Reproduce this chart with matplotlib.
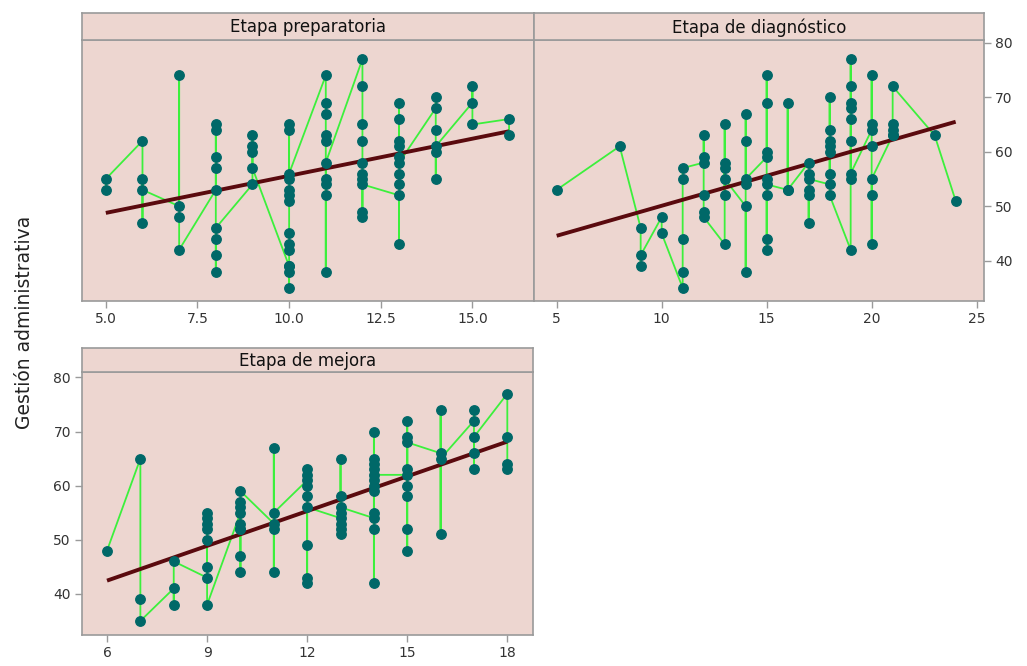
import numpy as np
import matplotlib
matplotlib.use("Agg")
import matplotlib.pyplot as plt
from matplotlib.ticker import FormatStrFormatter

# ---------------- data ----------------
panel_titles = ["Etapa preparatoria", "Etapa de diagnóstico", "Etapa de mejora"]
y_label = "Gestión administrativa"

prep_x = ([5] * 2 + [6] * 4 + [7] * 4 + [8] * 9 + [9] * 5 + [10] * 14 + [11] * 10 +
          [12] * 10 + [13] * 10 + [14] * 6 + [15] * 3 + [16] * 2)
prep_y = [53, 55,
          62, 47, 55, 53,
          50, 74, 48, 42,
          53, 65, 64, 59, 57, 38, 41, 44, 46,
          54, 63, 61, 60, 57,
          39, 35, 38, 39, 42, 43, 45, 51, 52, 53, 55, 64, 65, 56,
          74, 69, 67, 63, 62, 38, 52, 54, 55, 58,
          77, 72, 65, 62, 58, 56, 48, 49, 55, 54,
          52, 43, 54, 56, 59, 61, 62, 66, 69, 58,
          68, 70, 64, 60, 55, 61,
          69, 72, 65,
          66, 63]

diag_x = ([5] + [8] + [9] * 3 + [10] * 2 + [11] * 5 + [12] * 6 + [13] * 6 + [14] * 6 +
          [15] * 9 + [16] * 3 + [17] * 6 + [18] * 8 + [19] * 9 + [20] * 7 + [21] * 5 +
          [23] + [24])
diag_y = [53,
          61,
          46, 39, 41,
          48, 45,
          35, 38, 44, 55, 57,
          58, 63, 59, 52, 49, 48,
          43, 65, 58, 52, 57, 55,
          50, 38, 67, 62, 54, 55,
          59, 74, 69, 60, 42, 44, 52, 55, 54,
          53, 69, 53,
          58, 47, 52, 53, 56, 55,
          54, 70, 64, 62, 61, 60, 56, 52,
          42, 77, 72, 69, 68, 66, 62, 55, 56,
          64, 74, 65, 61, 43, 52, 55,
          63, 63, 64, 65, 72,
          63,
          51]

mej_x = ([6] + [7] * 3 + [8] * 3 + [9] * 8 + [10] * 9 + [11] * 5 + [12] * 9 + [13] * 8 +
         [14] * 12 + [15] * 9 + [16] * 4 + [17] * 5 + [18] * 4)
mej_y = [48,
         65, 39, 35,
         41, 38, 46,
         43, 45, 50, 52, 53, 54, 55, 38,
         55, 44, 47, 52, 52, 53, 56, 57, 59,
         53, 67, 44, 52, 55,
         61, 63, 62, 60, 58, 42, 43, 49, 56,
         54, 65, 58, 51, 52, 53, 55, 56,
         54, 70, 65, 64, 63, 61, 60, 59, 55, 52, 42, 62,
         62, 72, 69, 63, 60, 58, 52, 48, 68,
         66, 74, 51, 65,
         72, 74, 63, 66, 69,
         77, 69, 64, 63]

prep_xticks = [5.0, 7.5, 10.0, 12.5, 15.0]
diag_xticks = [5, 10, 15, 20, 25]
mej_xticks = [6, 9, 12, 15, 18]
y_ticks = [40, 50, 60, 70, 80]

# ---------------- style ----------------
W, H = 1027, 666
BG = "#EDD6D0"
EDGE = "#9a9a9a"
PT = "#006868"
GREEN = "#3CF03C"
FIT = "#5A0A0E"

fig = plt.figure(figsize=(W / 100, H / 100), dpi=100)
fig.patch.set_facecolor("white")


def rect(l, t, r, b):
    return [l / W, 1 - b / H, (r - l) / W, (b - t) / H]


def make_panel(ax_box, strip_box, title, xs, ys, xlim, ylim, xticks, fmt=None):
    ax = fig.add_axes(rect(*ax_box))
    ax.set_facecolor(BG)
    ax.plot(xs, ys, color=GREEN, lw=1.3, zorder=2)
    coef = np.polyfit(xs, ys, 1)
    xx = np.array([min(xs), max(xs)])
    ax.plot(xx, np.polyval(coef, xx), color=FIT, lw=2.8, zorder=3, solid_capstyle="butt")
    ax.plot(xs, ys, "o", ms=6.8, color=PT, mec=PT, zorder=4, lw=0)
    ax.set_xlim(*xlim)
    ax.set_ylim(*ylim)
    ax.set_xticks(xticks)
    if fmt:
        ax.xaxis.set_major_formatter(FormatStrFormatter(fmt))
    for s in ax.spines.values():
        s.set_color(EDGE)
        s.set_linewidth(1.2)
    ax.tick_params(axis="both", colors="#333333", labelsize=10, length=5,
                   width=1, pad=3)
    ax.tick_params(axis="both", color=EDGE)

    st = fig.add_axes(rect(*strip_box))
    st.set_facecolor(BG)
    st.set_xticks([])
    st.set_yticks([])
    for s in st.spines.values():
        s.set_color(EDGE)
        s.set_linewidth(1.2)
    st.text(0.5, 0.45, title, ha="center", va="center", fontsize=12,
            color="#111111", transform=st.transAxes)
    return ax


ax1 = make_panel((82, 39.5, 534, 301), (82, 12.5, 534, 39.5), panel_titles[0],
                 prep_x, prep_y, (4.35, 16.68), (32.6, 80.6), prep_xticks, "%.1f")
ax1.set_yticks([])

ax2 = make_panel((534, 39.5, 984, 301), (534, 12.5, 984, 39.5), panel_titles[1],
                 diag_x, diag_y, (3.92, 25.35), (32.6, 80.6), diag_xticks)
ax2.set_yticks(y_ticks)
ax2.yaxis.tick_right()

ax3 = make_panel((82, 371.5, 533, 635), (82, 347.5, 533, 371.5), panel_titles[2],
                 mej_x, mej_y, (5.25, 18.77), (32.4, 81.1), mej_xticks)
ax3.set_yticks(y_ticks)

fig.text(25 / W, 1 - 322 / H, y_label, rotation=90, ha="center", va="center",
         fontsize=13.5, color="#222222")

fig.savefig("out.png", dpi=100, facecolor="white")
